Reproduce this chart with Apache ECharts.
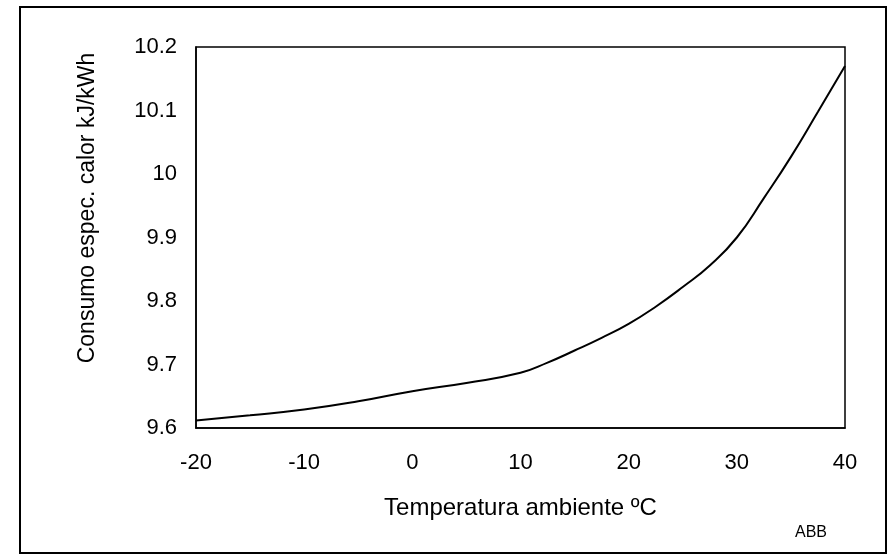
<!DOCTYPE html>
<html>
<head>
<meta charset="utf-8">
<script src="https://cdn.jsdelivr.net/npm/echarts@6/dist/echarts.min.js"></script>
<style>html,body{margin:0;padding:0;background:#fff}#c{width:892px;height:558px}</style>
</head>
<body>
<div id="c"></div>
<script>
const temps = [-20, -15, -10, -5, 0, 5, 10, 12.5, 15, 17.5, 20, 22.5, 25, 27.5, 30, 32.5, 35, 37.5, 40];
const consumo = [9.612, 9.620, 9.629, 9.642, 9.658, 9.671, 9.687, 9.703, 9.722, 9.742, 9.764, 9.791, 9.822, 9.856, 9.900, 9.962, 10.027, 10.098, 10.170];
const xTicks = [-20, -10, 0, 10, 20, 30, 40];
const yTicks = [9.6, 9.7, 9.8, 9.9, 10, 10.1, 10.2];
const xTitle = 'Temperatura ambiente ºC';
const yTitle = 'Consumo espec. calor kJ/kWh';
const credit = 'ABB';

const font = '"Liberation Sans", Arial, sans-serif';
const chart = echarts.init(document.getElementById('c'));
chart.setOption({
  animation: false,
  backgroundColor: '#fff',
  grid: { left: 196, right: 47, top: 47, bottom: 130, show: true, borderColor: '#000', borderWidth: 1.5, backgroundColor: 'transparent' },
  xAxis: {
    type: 'value', min: xTicks[0], max: xTicks[xTicks.length - 1], interval: 10,
    axisLine: { onZero: false, lineStyle: { color: '#000', width: 1.5 } },
    axisTick: { show: false }, splitLine: { show: false },
    axisLabel: { color: '#000', fontSize: 22, fontFamily: font, margin: 24 },
    name: xTitle, nameLocation: 'middle', nameGap: 68,
    nameTextStyle: { color: '#000', fontSize: 24, fontFamily: font }
  },
  yAxis: {
    type: 'value', min: yTicks[0], max: yTicks[yTicks.length - 1], interval: 0.1,
    axisLine: { show: true, onZero: false, lineStyle: { color: '#000', width: 1.5 } },
    axisTick: { show: false }, splitLine: { show: false },
    axisLabel: { color: '#000', fontSize: 22, fontFamily: font, margin: 19,
      formatter: v => String(parseFloat(v.toFixed(1))) }
  },
  graphic: [
    { type: 'rect', shape: { x: 20, y: 7, width: 866, height: 546 }, style: { fill: 'none', stroke: '#000', lineWidth: 2 }, silent: true },
    { type: 'text', x: 88, y: 208, rotation: Math.PI / 2,
      style: { text: yTitle, fill: '#000', font: '23px ' + font, textAlign: 'center', textVerticalAlign: 'middle' } },
    { type: 'text', x: 811, y: 533,
      style: { text: credit, fill: '#000', font: '16px ' + font, textAlign: 'center', textVerticalAlign: 'middle' } }
  ],
  series: [{
    type: 'line', smooth: true, symbol: 'none',
    lineStyle: { color: '#000', width: 2 },
    data: temps.map((t, i) => [t, consumo[i]])
  }]
});
</script>
</body>
</html>
